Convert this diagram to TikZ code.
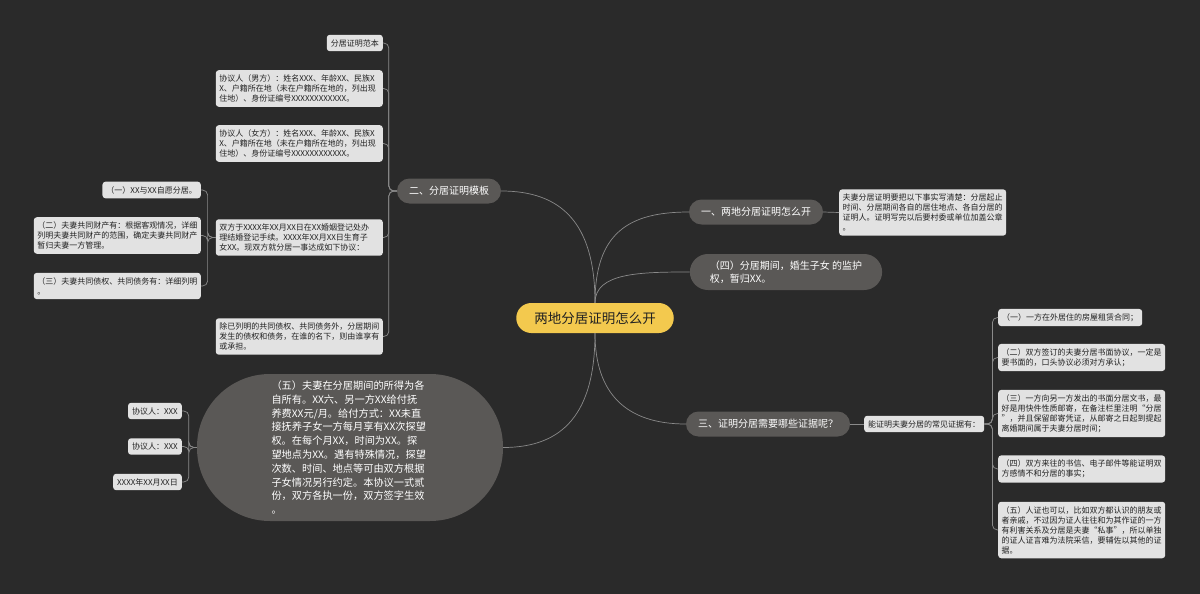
\documentclass[tikz,border=0pt]{standalone}
\usepackage{fontspec}
\setmainfont{Noto Sans CJK SC}
\definecolor{bgc}{HTML}{2A2A2A}
\definecolor{pillc}{HTML}{5A5856}
\definecolor{leafc}{HTML}{E2E2E2}
\definecolor{leaft}{HTML}{222222}
\definecolor{linec}{HTML}{8A8A8A}
\definecolor{rootc}{HTML}{F3C94E}

\begin{document}
\begin{tikzpicture}[x=1pt,y=-1pt,
    link/.style={draw=linec,line width=0.7pt,rounded corners=5pt},
    pill/.style={fill=pillc,text=white,rounded corners=12.5pt,minimum height=25pt,inner xsep=12pt,font=\fontsize{10}{13}\selectfont,align=left},
    leaf/.style={fill=leafc,text=leaft,rounded corners=3pt,inner xsep=4pt,inner ysep=4.5pt,font=\fontsize{8}{10}\selectfont,align=left},
    leafw/.style={leaf,text width=160pt,inner xsep=3.5pt}]
    \fill[bgc] (0,0) rectangle (1200,594);

    \node[fill=rootc,text=leaft,rounded corners=15pt,minimum height=30pt,inner xsep=18pt,font=\fontsize{13.5}{16}\selectfont] (root) at (595,318) {两地分居证明怎么开};

    \node[pill] (b1) at (756,212) {一、两地分居证明怎么开};
    \node[pill,rounded corners=18pt,minimum height=36pt,inner xsep=20pt] (b4) at (786,272) {（四）分居期间，婚生子女 的监护\\权，暂归XX。};
    \node[pill] (b3) at (768,424) {三、证明分居需要哪些证据呢？};
    \node[pill] (b2) at (449,191) {二、分居证明模板};
    \node[pill,rounded corners=73pt,minimum width=306pt,minimum height=147pt,text width=157pt,font=\fontsize{10.2}{13.8}\selectfont] (b5) at (350,447.5) {（五）夫妻在分居期间的所得为各\\自所有。XX六、另一方XX给付抚\\养费XX元/月。给付方式：XX未直\\接抚养子女一方每月享有XX次探望\\权。在每个月XX，时间为XX。探\\望地点为XX。遇有特殊情况，探望\\次数、时间、地点等可由双方根据\\子女情况另行约定。本协议一式贰\\份，双方各执一份，双方签字生效\\。};

    \node[leafw,anchor=west] (d1) at (839,212.5) {夫妻分居证明要把以下事实写清楚：分居起止\\时间、分居期间各自的居住地点、各自分居的\\证明人。证明写完以后要村委或单位加盖公章\\。};

    \node[leaf,anchor=west] (e0) at (864,424) {能证明夫妻分居的常见证据有：};
    \node[leaf,anchor=west] (e1) at (998,317.5) {（一）一方在外居住的房屋租赁合同；};
    \node[leafw,anchor=west] (e2) at (998,357.5) {（二）双方签订的夫妻分居书面协议，一定是\\要书面的，口头协议必须对方承认；};
    \node[leafw,anchor=west] (e3) at (998,413.5) {（三）一方向另一方发出的书面分居文书，最\\好是用快件性质邮寄，在备注栏里注明“分居\\”，并且保留邮寄凭证，从邮寄之日起到提起\\离婚期间属于夫妻分居时间；};
    \node[leafw,anchor=west] (e4) at (998,469) {（四）双方来往的书信、电子邮件等能证明双\\方感情不和分居的事实；};
    \node[leafw,anchor=west] (e5) at (998,530) {（五）人证也可以，比如双方都认识的朋友或\\者亲戚，不过因为证人往往和为其作证的一方\\有利害关系及分居是夫妻“私事”，所以单独\\的证人证言难为法院采信，要辅佐以其他的证\\据。};

    \node[leaf,anchor=east] (m1) at (383,43) {分居证明范本};
    \node[leafw,anchor=east] (m2) at (383,88.5) {协议人（男方）：姓名XXX、年龄XX、民族X\\X、户籍所在地（未在户籍所在地的，列出现\\住地）、身份证编号XXXXXXXXXXXX。};
    \node[leafw,anchor=east] (m3) at (383,143.5) {协议人（女方）：姓名XXX、年龄XX、民族X\\X、户籍所在地（未在户籍所在地的，列出现\\住地）、身份证编号XXXXXXXXXXXX。};
    \node[leafw,anchor=east] (m4) at (383,237.5) {双方于XXXX年XX月XX日在XX婚姻登记处办\\理结婚登记手续。XXXX年XX月XX日生育子\\女XX。现双方就分居一事达成如下协议：};
    \node[leafw,anchor=east] (m5) at (383,336.5) {除已列明的共同债权、共同债务外，分居期间\\发生的债权和债务，在谁的名下，则由谁享有\\或承担。};

    \node[leaf,anchor=east] (s1) at (201,190) {（一）XX与XX自愿分居。};
    \node[leafw,anchor=east] (s2) at (201,235.5) {（二）夫妻共同财产有：根据客观情况，详细\\列明夫妻共同财产的范围，确定夫妻共同财产\\暂归夫妻一方管理。};
    \node[leafw,anchor=east] (s3) at (201,286) {（三）夫妻共同债权、共同债务有：详细列明\\。};

    \node[leaf,anchor=east] (p1) at (182,411) {协议人：XXX};
    \node[leaf,anchor=east] (p2) at (182,446.5) {协议人：XXX};
    \node[leaf,anchor=east] (p3) at (182,482) {XXXX年XX月XX日};

    \draw[link] (root.north) .. controls +(0,-70) and +(-60,0) .. (b1.west);
    \draw[link] (root.north) .. controls +(0,-30) and +(-50,0) .. (b4.west);
    \draw[link] (root.south) .. controls +(0,60) and +(-60,0) .. (b3.west);
    \draw[link] (root.north) .. controls +(0,-80) and +(60,0) .. (b2.east);
    \draw[link] (root.south) .. controls +(0,80) and +(60,0) .. (b5.east);

    \draw[link] (b1.east) -- (d1.west);
    \draw[link] (b3.east) -- (e0.west);
    \foreach \c in {e1,e2,e3,e4,e5}
        \draw[link] (e0.east) -- ++(8,0) |- (\c.west);
    \foreach \c in {m1,m2,m3,m4,m5}
        \draw[link] (b2.west) -- ++(-8,0) |- (\c.east);
    \foreach \c in {s1,s2,s3}
        \draw[link] (m4.west) -- ++(-8,0) |- (\c.east);
    \foreach \c in {p1,p2,p3}
        \draw[link] (b5.west) -- ++(-8,0) |- (\c.east);
\end{tikzpicture}
\end{document}
